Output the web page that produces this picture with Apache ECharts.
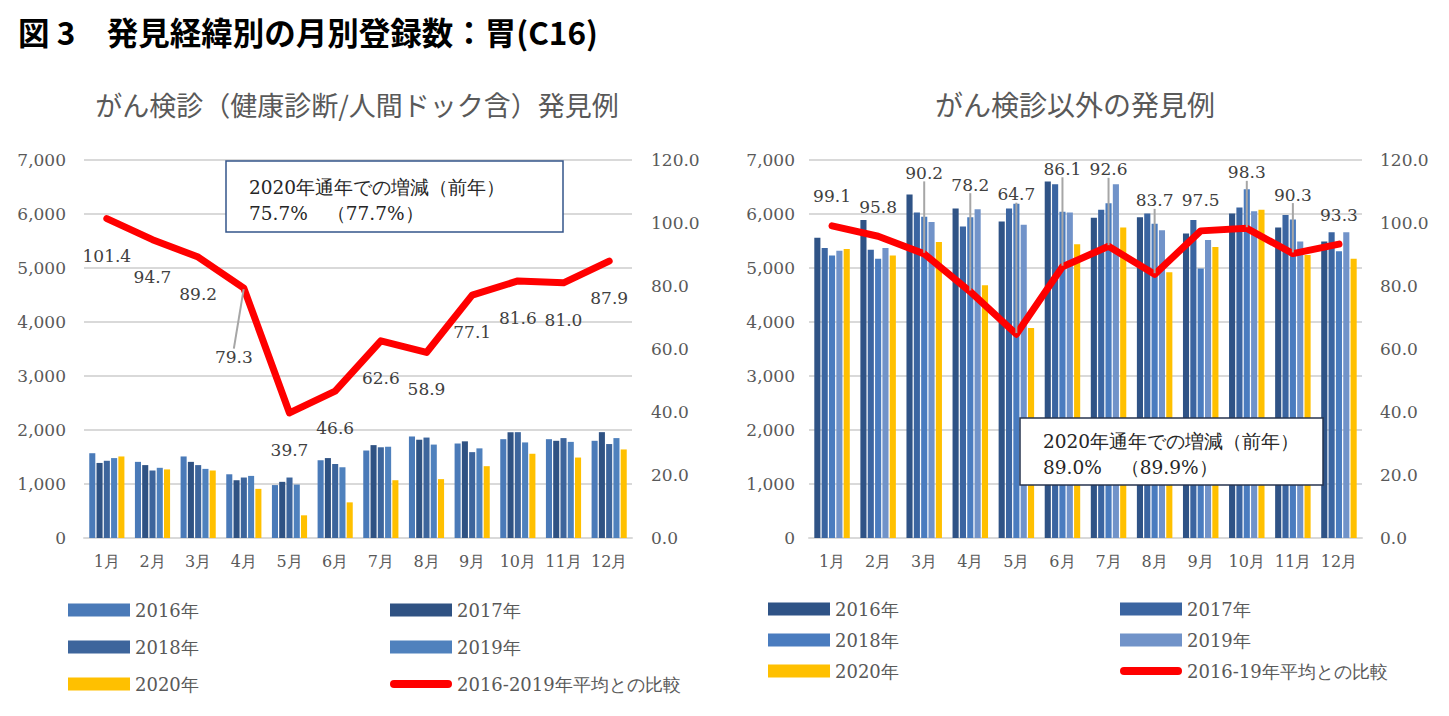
<!DOCTYPE html>
<html><head><meta charset="utf-8">
<script src="https://cdn.jsdelivr.net/npm/echarts@6/dist/echarts.min.js"></script>
<style>html,body{margin:0;padding:0;background:#fff}#c{width:1449px;height:716px}</style>
</head><body><div id="c"></div>
<script>
// ---------- data ----------
const months = ['1月','2月','3月','4月','5月','6月','7月','8月','9月','10月','11月','12月'];
const yearNames = ['2016年','2017年','2018年','2019年','2020年'];
const lineNameLeft = '2016-2019年平均との比較';
const lineNameRight = '2016-19年平均との比較';

// がん検診（健康診断/人間ドック含）発見例
const scr2016 = [1570,1410,1510,1180,980,1440,1620,1880,1750,1830,1830,1800];
const scr2017 = [1390,1350,1410,1070,1040,1480,1720,1820,1790,1960,1800,1960];
const scr2018 = [1430,1250,1350,1120,1120,1370,1680,1860,1590,1960,1850,1740];
const scr2019 = [1480,1300,1280,1150,990,1310,1690,1730,1660,1770,1780,1850];
const scr2020 = [1510,1270,1250,910,420,660,1070,1090,1330,1560,1490,1640];
const scrRatio = [101.4,94.7,89.2,79.3,39.7,46.6,62.6,58.9,77.1,81.6,81.0,87.9];

// がん検診以外の発見例
const oth2016 = [5560,5890,6360,6100,5860,6600,5930,5940,5640,6010,5750,5490];
const oth2017 = [5370,5340,6030,5770,6100,6550,6080,6010,5890,6120,5980,5660];
const oth2018 = [5230,5170,5950,5940,6190,6040,6200,5820,4990,6460,5900,5310];
const oth2019 = [5320,5370,5850,6090,5800,6030,6550,5700,5520,6050,5490,5660];
const oth2020 = [5350,5230,5480,4680,3890,5440,5750,4920,5390,6080,5240,5170];
const othRatio = [99.1,95.8,90.2,78.2,64.7,86.1,92.6,83.7,97.5,98.3,90.3,93.3];

const leftAxisTicks = {min:0, max:7000, interval:1000};
const rightAxisTicks = {min:0, max:120, interval:20};

// ---------- styles / label layout (not data) ----------
const leftColors = ['#4a7ab8','#2f5283','#3d659c','#4f81bd','#ffc000'];
const rightColors = ['#2f5386','#3b65a1','#4a7cbf','#7193c9','#ffc000'];
const leftLabelDy = [37,37,37,69,37,37,37,37,37,37,37,37];
const leftLabelDx = [0,0,0,-10,0,0,0,0,0,0,0,0];
const leftLeader = [3];
const rightLabelDy = [-30,-29,-81,-107,-140,-98,-77,-74,-31,-56,-59,-29];
const rightLeader = [2,3,4,5,6,7,9,10];

const SERIF = 'DejaVu Serif';
const axisTextColor = '#595959';

function barSeries(name, vals, color, axisIdx) {
  return {
    name, type:'bar', data: vals,
    xAxisIndex: axisIdx, yAxisIndex: axisIdx*2,
    itemStyle:{color}, barGap:'20%', barCategoryGap:'23%',
    emphasis:{disabled:true}
  };
}
function lineSeries(name, vals, axisIdx, dys, dxs, leaders) {
  return {
    name, type:'line', xAxisIndex: axisIdx, yAxisIndex: axisIdx*2+1,
    data: vals.map((v,i)=>({value:v, labelLine:{show: leaders.includes(i)}})),
    symbol:'circle', symbolSize:2, showSymbol:true,
    itemStyle:{color:'#ff0000'},
    lineStyle:{color:'#ff0000', width:7, join:'round', cap:'round'},
    z: 5,
    label:{show:true, fontFamily:SERIF, fontSize:17, color:'#404040',
      formatter: p => p.value.toFixed(1)},
    labelLine:{show:false, length2:0, smooth:false, lineStyle:{color:'#a6a6a6', width:2}},
    labelLayout: p => ({
      x: p.rect.x + p.rect.width/2 + (dxs ? dxs[p.dataIndex] : 0),
      y: p.rect.y + p.rect.height/2 + dys[p.dataIndex],
      align:'center', verticalAlign:'middle'
    }),
    emphasis:{disabled:true}
  };
}

const scrSets = [scr2016, scr2017, scr2018, scr2019, scr2020];
const othSets = [oth2016, oth2017, oth2018, oth2019, oth2020];

const series = [];
scrSets.forEach((d,i)=>series.push(barSeries(yearNames[i], d, leftColors[i], 0)));
series.push(lineSeries(lineNameLeft, scrRatio, 0, leftLabelDy, leftLabelDx, leftLeader));
othSets.forEach((d,i)=>series.push(barSeries(yearNames[i], d, rightColors[i], 1)));
series.push(lineSeries(lineNameRight, othRatio, 1, rightLabelDy, null, rightLeader));

function xAxis(gi) {
  return {type:'category', gridIndex:gi, data:months,
    axisTick:{show:false},
    axisLine:{lineStyle:{color:'#d9d9d9', width:2}},
    axisLabel:{interval:0, fontFamily:SERIF, fontSize:16, color:axisTextColor, margin:15}};
}
function yLeft(gi, margin) {
  return Object.assign({type:'value', gridIndex:gi, position:'left',
    axisLine:{show:false}, axisTick:{show:false},
    splitLine:{lineStyle:{color:'#d9d9d9', width:2}},
    axisLabel:{fontFamily:SERIF, fontSize:17, color:axisTextColor, margin,
      formatter: v => v.toLocaleString('en-US')}}, leftAxisTicks);
}
function yRight(gi, margin) {
  return Object.assign({type:'value', gridIndex:gi, position:'right',
    axisLine:{show:false}, axisTick:{show:false}, splitLine:{show:false},
    axisLabel:{fontFamily:SERIF, fontSize:17, color:axisTextColor, margin,
      formatter: v => v.toFixed(1)}}, rightAxisTicks);
}

const capsule = 'path://M4,0L58,0A4,4,0,0,1,58,8L4,8A4,4,0,0,1,4,0Z';
function legendItems(names, colors, lineName) {
  return names.map((n,i)=> n === lineName
    ? {name:n, icon:capsule, itemStyle:{color:'#ff0000', borderWidth:0}, textStyle:{fontFamily:SERIF}}
    : {name:n, icon:'rect', itemStyle:{color:colors[i], borderWidth:0}, textStyle:{fontFamily:SERIF}});
}
const legendBase = {orient:'vertical', itemWidth:62, itemHeight:13, selectedMode:false,
  textStyle:{fontFamily:SERIF, fontSize:18, color:axisTextColor}};

const legends = [
  Object.assign({}, legendBase, {left:63, top:596, itemGap:19,
    data: legendItems([yearNames[0],yearNames[2],yearNames[4]], [leftColors[0],leftColors[2],leftColors[4]])}),
  Object.assign({}, legendBase, {left:385, top:596, itemGap:19,
    data: legendItems([yearNames[1],yearNames[3],lineNameLeft], [leftColors[1],leftColors[3],null], lineNameLeft)}),
  Object.assign({}, legendBase, {left:763, top:595, itemGap:13,
    data: legendItems([yearNames[0],yearNames[2],yearNames[4]], [rightColors[0],rightColors[2],rightColors[4]])}),
  Object.assign({}, legendBase, {left:1115, top:595, itemGap:13,
    data: legendItems([yearNames[1],yearNames[3],lineNameRight], [rightColors[1],rightColors[3],null], lineNameRight)})
];

function boxText(x, y, text) {
  return {type:'text', z:101, x, y, style:{text, fontFamily:SERIF, fontSize:18.5, fill:'#262626', textVerticalAlign:'middle'}};
}
const graphic = [
  {type:'text', left:18, top:15, style:{text:'図 3　発見経緯別の月別登録数：胃(C16)', fontFamily:'Noto Sans CJK JP', fontWeight:'bold', fontSize:31.5, fill:'#000'}},
  {type:'text', x:357, y:104, style:{text:'がん検診（健康診断/人間ドック含）発見例', fontFamily:'Noto Sans CJK JP', fontSize:27, fill:'#595959', textAlign:'center', textVerticalAlign:'middle'}},
  {type:'text', x:1075, y:104, style:{text:'がん検診以外の発見例', fontFamily:'Noto Sans CJK JP', fontSize:28, fill:'#595959', textAlign:'center', textVerticalAlign:'middle'}},
  {type:'rect', z:100, shape:{x:226, y:161, width:337, height:71}, style:{fill:'#fff', stroke:'#34558a', lineWidth:1.5}},
  boxText(249, 187, '2020年通年での増減（前年）'),
  boxText(249, 213, '75.7%　（77.7%）'),
  {type:'rect', z:100, shape:{x:1020, y:418, width:303, height:67}, style:{fill:'#fff', stroke:'#27344f', lineWidth:1.5}},
  boxText(1043, 441, '2020年通年での増減（前年）'),
  boxText(1043, 467, '89.0%　（89.9%）')
];

const option = {
  animation:false,
  backgroundColor:'#fff',
  grid:[{left:84, top:160, width:548, height:378}, {left:809, top:160, width:553, height:378}],
  xAxis:[xAxis(0), xAxis(1)],
  yAxis:[yLeft(0,18), yRight(0,19), yLeft(1,14), yRight(1,18)],
  legend: legends,
  series,
  graphic
};
const chart = echarts.init(document.getElementById('c'), null, {renderer:'svg'});
chart.setOption(option);
</script>
</body></html>
